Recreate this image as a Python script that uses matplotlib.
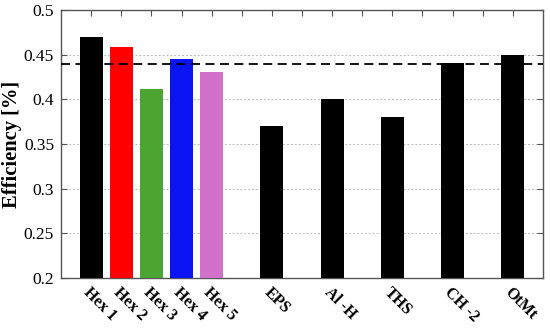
import matplotlib.pyplot as plt
import numpy as np

labels = ['Hex 1', 'Hex 2', 'Hex 3', 'Hex 4', 'Hex 5', 'EPS', 'Al -H', 'THS', 'CH -2', 'OtMt']
positions = [1, 2, 3, 4, 5, 7, 9, 11, 13, 15]
efficiency = [0.47, 0.459, 0.411, 0.445, 0.43, 0.37, 0.40, 0.38, 0.44, 0.45]
colors = ['black', '#ff0000', '#4ca432', '#0a14f5', '#d171c9',
          'black', 'black', 'black', 'black', 'black']
reference = 0.439

plt.rcParams['font.family'] = ['Liberation Serif', 'DejaVu Serif']

fig = plt.figure(figsize=(5.5, 3.29), dpi=100)
ax = fig.add_axes([0.111, 0.155, 0.876, 0.815])

ax.bar(positions, efficiency, width=0.76, color=colors, zorder=3)
ax.axhline(reference, color='black', ls=(0, (5, 3)), lw=1.3, zorder=4)

ax.set_xlim(0, 16)
ax.set_ylim(0.2, 0.5)
ax.set_yticks(np.arange(0.2, 0.501, 0.05))
ax.set_yticklabels(['0.2', '0.25', '0.3', '0.35', '0.4', '0.45', '0.5'], fontsize=12.5)
ax.yaxis.grid(True, ls=(0, (2, 2)), color='#bbbbbb', lw=0.7, zorder=0)

ax.set_xticks(positions)
ax.set_xticklabels(labels, rotation=-45, ha='left', va='top', rotation_mode='anchor',
                   fontsize=11.5, fontweight='bold')
ax.tick_params(axis='x', which='major', length=0, pad=5)
ax.tick_params(axis='y', direction='in', right=True, length=4, color='#555555', pad=5)

# top tick marks every unit, as in the original
top = ax.secondary_xaxis('top')
top.set_xticks(range(1, 16))
top.set_xticklabels([])
top.tick_params(direction='in', length=4, color='#555555')

for s in ax.spines.values():
    s.set_color('#555555')
    s.set_linewidth(1.0)
top.spines['top'].set_visible(False)

ax.set_ylabel('Efficiency [%]', fontsize=14.8, fontweight='bold', labelpad=1)

fig.savefig('out.png', dpi=100)
